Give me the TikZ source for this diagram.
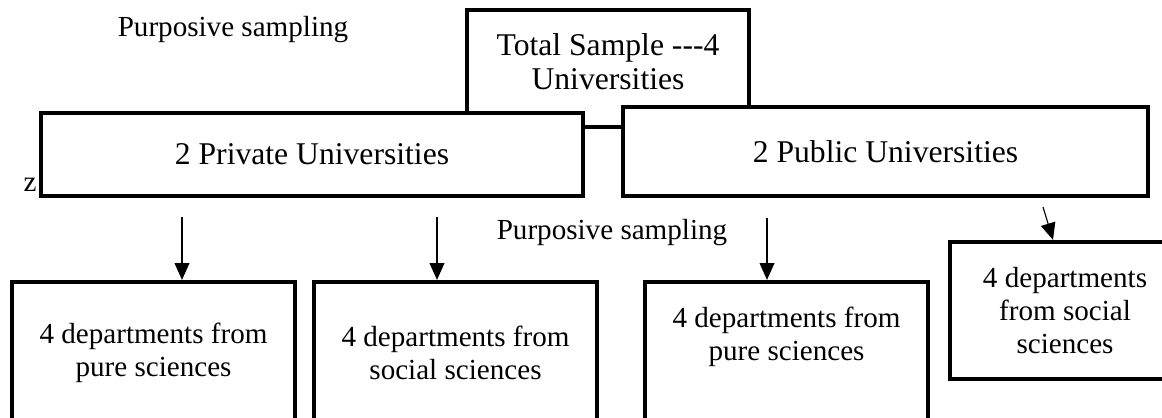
\documentclass[tikz,border=0pt]{standalone}
\usepackage{fontspec}
\setmainfont{Liberation Serif}
\usetikzlibrary{arrows.meta,positioning}

\begin{document}
\begin{tikzpicture}[
    x=0.025cm, y=-0.025cm,
    >={Triangle[length=0.42cm,width=0.37cm]},
    box/.style={draw, line width=3pt, fill=white, align=center, inner sep=0pt},
    unibox/.style={box, font=\fontsize{22.5}{24.5}\selectfont},
    deptbox/.style={box, minimum width=7.075cm, minimum height=3.55cm, font=\fontsize{20.7}{23.3}\selectfont},
    note/.style={font=\fontsize{20.7}{23.3}\selectfont, inner sep=0pt, align=center},
    arrow/.style={->, line width=0.8pt}
  ]
    \useasboundingbox (0,0) rectangle (1162,417);

    % sample and the two groups of universities
    \node[unibox, minimum width=7.05cm, minimum height=2.925cm, text depth=0.35cm] (total) at (608,68.5) {Total Sample -{}-{}-4\\Universities};
    \node[unibox, minimum width=13.55cm, minimum height=2.075cm] (private) at (312,154.5) {2 Private Universities};
    \node[unibox, minimum width=13.125cm, minimum height=2.225cm] (public) at (885.5,151.5) {2 Public Universities};

    \node[note] (samplingtop) at (233,30) {Purposive sampling};
    \node[note] (samplingmid) at (612,233) {Purposive sampling};
    \node[note] (zmark) at (30,185) {z};

    % departments
    \node[deptbox] (privpure) at (153.5,353) {4 departments from\\pure sciences};
    \node[deptbox] (privsocial) at (455.5,353) {4 departments from\\social sciences};
    \node[deptbox] (pubpure) at (786.5,353) {};
    \node[note] (pubpuretext) at (786.5,337) {4 departments from\\pure sciences};
    \node[deptbox, minimum width=5.75cm, minimum height=3.425cm] (pubsocial) at (1065,310.5) {4 departments\\from social\\sciences};

    \coordinate (a1) at (182,217);
    \coordinate (a2) at (437,217);
    \coordinate (a3) at (767,218);
    \coordinate (a4) at (1043,207);

    \draw[arrow] (a1) -- (a1 |- privpure.north);
    \draw[arrow] (a2) -- (a2 |- privsocial.north);
    \draw[arrow] (a3) -- (a3 |- pubpure.north);
    \draw[arrow] (a4) -- ([xshift=-0.3cm]pubsocial.north);
\end{tikzpicture}
\end{document}
